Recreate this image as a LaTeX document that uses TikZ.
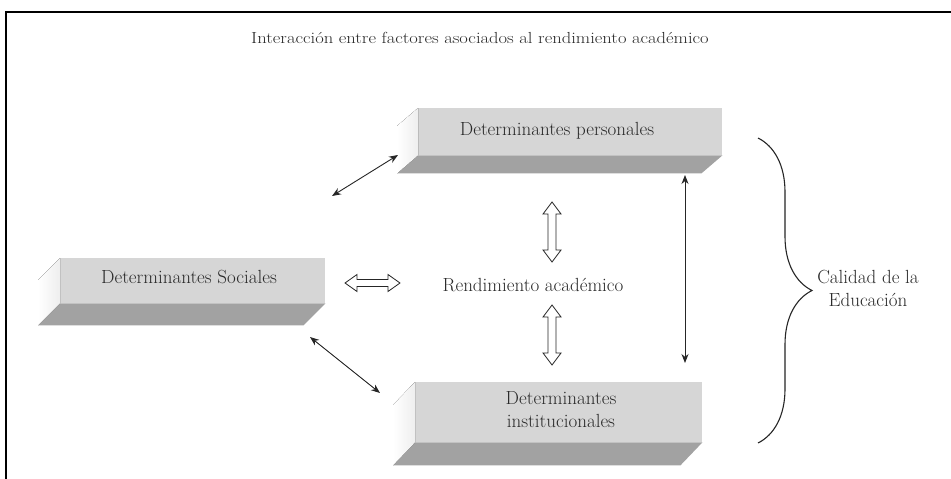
\documentclass[tikz,border=0pt]{standalone}
\usetikzlibrary{calc,arrows.meta,decorations.pathreplacing}
\definecolor{txt}{HTML}{2A2A2A}
\definecolor{frontc}{HTML}{D6D6D6}
\definecolor{bottomc}{HTML}{A2A2A2}
\definecolor{sidec}{HTML}{EEEEEE}
\tikzset{
  bodytext/.style={font=\fontsize{19}{23}\selectfont, text=txt, align=center, inner sep=0pt},
  titletext/.style={font=\fontsize{16}{19}\selectfont, text=txt, inner sep=0pt},
  frontface/.style={fill=frontc, draw=none},
  bottomface/.style={fill=bottomc, draw=none},
  sideface/.style={left color=white, right color=sidec, draw=none},
  thinarrow/.style={draw=black!85, line width=0.9pt, {Stealth[length=9pt,width=7pt]}-{Stealth[length=9pt,width=7pt]}},
  hollow/.style={draw=black!85, fill=white, line width=0.8pt, line join=miter},
  bracestyle/.style={draw=black!85, line width=1.1pt, decorate, decoration={brace, amplitude=54pt}},
  framestyle/.style={draw=black, line width=2.2pt}
}
\newcommand\boxthreed[6]{% name, x1, y1, x2, y2, offset dx/dy as {dx}{dy}
  \node[frontface, minimum width=#4-#2, minimum height=#5-#3, anchor=north west] (#1) at (#2,#3) {};
}
\begin{document}
\begin{tikzpicture}[x=1pt,y=-1pt]
\useasboundingbox (0,0) rectangle (951,479);
\fill[white] (0,0) rectangle (951,479);
% frame
\draw[framestyle] (6,479) -- (6,12) -- (951,12);

% title
\node[titletext] (title) at (480,38) {\scalebox{1.16}[1]{Interacción entre factores asociados al rendimiento académico}};

% personal box
\node[frontface, minimum width=304pt, minimum height=47pt, inner sep=0pt, anchor=north west] (pers) at (418,108) {};
\fill[bottomface] (pers.south west) -- (pers.south east) -- ++(-21,18) -- ($(pers.south west)+(-21,18)$) -- cycle;
\fill[sideface] (pers.north west) -- (pers.south west) -- ++(-21,18) -- ($(pers.north west)+(-21,18)$) -- cycle;
\node[bodytext] (perstext) at (557,131) {Determinantes personales};

% social box
\node[frontface, minimum width=265pt, minimum height=45pt, inner sep=0pt, anchor=north west] (soc) at (60,258) {};
\fill[bottomface] (soc.south west) -- (soc.south east) -- ++(-22,22) -- ($(soc.south west)+(-22,22)$) -- cycle;
\fill[sideface] (soc.north west) -- (soc.south west) -- ++(-22,22) -- ($(soc.north west)+(-22,22)$) -- cycle;
\node[bodytext] (soctext) at (189,277) {Determinantes Sociales};

% institutional box
\node[frontface, minimum width=287pt, minimum height=60pt, inner sep=0pt, anchor=north west] (inst) at (415,382) {};
\fill[bottomface] (inst.south west) -- (inst.south east) -- ++(-22,23) -- ($(inst.south west)+(-22,23)$) -- cycle;
\fill[sideface] (inst.north west) -- (inst.south west) -- ++(-22,23) -- ($(inst.north west)+(-22,23)$) -- cycle;
\node[bodytext] (insttext) at (561,410) {Determinantes\\institucionales};

% centre
\node[bodytext] (rend) at (533,285) {Rendimiento académico};

% quality
\node[bodytext] (cal) at (868,288) {Calidad de la\\Educación};

% thin arrows
\coordinate (psA) at (398,155);
\coordinate (psB) at (332,196);
\draw[thinarrow] (psA) -- (psB);
\coordinate (siA) at (310,337);
\coordinate (siB) at (380,393);
\draw[thinarrow] (siA) -- (siB);
\coordinate (piA) at (685,175);
\coordinate (piB) at (685,363);
\draw[thinarrow] (piA) -- (piB);

% hollow arrows
\coordinate (hA) at (345,283);
\coordinate (hB) at (400,283);
\draw[hollow] (hA) -- ++(12,-8.5) -- ++(0,5) -- ($(hB)+(-12,-3.5)$) -- ++(0,-5) -- (hB) -- ++(-12,8.5) -- ++(0,-5) -- ($(hA)+(12,3.5)$) -- ++(0,5) -- cycle;
\coordinate (uA) at (552,202);
\coordinate (uB) at (552,262);
\draw[hollow] (uA) -- ++(9,12) -- ++(-5,0) -- ($(uB)+(4,-12)$) -- ++(5,0) -- (uB) -- ++(-9,-12) -- ++(5,0) -- ($(uA)+(-4,12)$) -- ++(-5,0) -- cycle;
\coordinate (lA) at (552,305);
\coordinate (lB) at (552,365);
\draw[hollow] (lA) -- ++(9,12) -- ++(-5,0) -- ($(lB)+(4,-12)$) -- ++(5,0) -- (lB) -- ++(-9,-12) -- ++(5,0) -- ($(lA)+(-4,12)$) -- ++(-5,0) -- cycle;

% brace
\coordinate (brT) at (758,138);
\coordinate (brB) at (758,443);
\draw[bracestyle] (brT) -- (brB);
\end{tikzpicture}
\end{document}
